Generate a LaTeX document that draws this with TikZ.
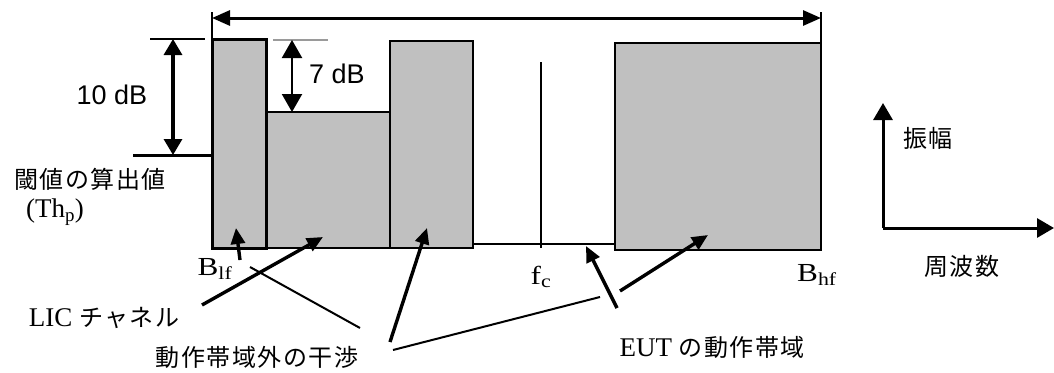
\documentclass[tikz,border=0pt]{standalone}
\usepackage{fontspec}
\setmainfont{Liberation Serif}
\newfontfamily\cjk[LetterSpace=6]{Noto Sans CJK JP}
\newfontfamily\arialf{Liberation Sans}
\usetikzlibrary{arrows.meta}
\definecolor{barfill}{HTML}{C0C0C0}
\definecolor{tickgray}{HTML}{9A9A9A}
\begin{document}
\begin{tikzpicture}[x=1pt,y=-1pt,
  bar/.style={fill=barfill,draw=black,line width=1.6pt},
  thinline/.style={line width=1.6pt},
  ptr/.style={line width=3.4pt,-{Triangle[length=16pt,width=14pt]}},
  lead/.style={line width=2pt},
  dimarrow/.style={line width=3.2pt,{Triangle[length=16pt,width=18pt]}-{Triangle[length=16pt,width=18pt]}},
  jp/.style={font=\cjk\fontsize{24}{28}\selectfont,inner sep=0pt},
  lat/.style={font=\fontsize{27}{30}\selectfont,inner sep=0pt},
  sym/.style={font=\fontsize{26}{28}\selectfont,inner sep=0pt},
  db/.style={font=\arialf\fontsize{27}{30}\selectfont,inner sep=0pt}
]
\useasboundingbox (0,0) rectangle (1054,372);

% bars
\path[bar] (266,112) rectangle (390,248);
\path[bar] (390,41) rectangle (473,248);
\path[bar] (615,43) rectangle (821,250);
\path[bar,line width=3pt] (212,39) rectangle (266,248);
\draw[thinline] (473,244) -- (615,244);
\draw[thinline] (541,62) -- (541,248);

% top span
\coordinate (tl) at (212,18);
\coordinate (tr) at (821,18);
\draw[thinline] (212,12) -- (212,39);
\draw[thinline] (821,12) -- (821,43);
\draw[line width=3pt,{Triangle[length=18pt,width=15pt]}-{Triangle[length=18pt,width=15pt]}] (tl) -- (tr);

% 10 dB
\coordinate (d10a) at (173,39);
\coordinate (d10b) at (173,155);
\draw[thinline] (150,39) -- (205,39);
\draw[line width=3pt] (133,155) -- (212,155);
\draw[dimarrow] (d10a) -- (d10b);
\node[db] (l10) at (112,95) {10 dB};

% 7 dB
\coordinate (d7a) at (292,40);
\coordinate (d7b) at (292,112);
\draw[tickgray,line width=2pt] (273,40) -- (328,40);
\draw[line width=2.2pt,{Triangle[length=18pt,width=20pt]}-{Triangle[length=18pt,width=20pt]}] (d7a) -- (d7b);
\node[db] (l7) at (337,74) {7 dB};

% labels
\node[jp] (thr) at (90,179) {閾値の算出値};
\node[lat] (thp) at (55,212) {(Th\textsubscript{p})};
\node[sym] (blf) at (215,269) {\scalebox{1.2}[1]{B\textsubscript{lf}}};
\node[sym] (fc) at (541,277) {\scalebox{1.2}[1]{f\textsubscript{c}}};
\node[sym] (bhf) at (817,275) {\scalebox{1.2}[1]{B\textsubscript{hf}}};
\node[lat] (lic) at (104,318) {LIC {\cjk\fontsize{24}{28}\selectfont チャネル}};
\node[jp] (oob) at (257,357) {動作帯域外の干渉};
\node[lat] (eut) at (712,347) {EUT {\cjk\fontsize{24}{28}\selectfont の動作帯域}};
\node[jp] (amp) at (928,138) {振幅};
\node[jp] (frq) at (962,266) {周波数};

% pointers
\coordinate (p1s) at (240,260); \coordinate (p1e) at (236,228);
\coordinate (p2s) at (202,305); \coordinate (p2e) at (323,237);
\coordinate (l1s) at (250,267); \coordinate (l1e) at (360,328);
\coordinate (p3s) at (390,342); \coordinate (p3e) at (427,228);
\coordinate (l2s) at (393,350); \coordinate (l2e) at (600,297);
\coordinate (p4s) at (617,308); \coordinate (p4e) at (586,246);
\coordinate (p5s) at (620,291); \coordinate (p5e) at (708,235);
\draw[ptr] (p1s) -- (p1e);
\draw[ptr] (p2s) -- (p2e);
\draw[lead] (l1s) -- (l1e);
\draw[ptr] (p3s) -- (p3e);
\draw[lead] (l2s) -- (l2e);
\draw[ptr] (p4s) -- (p4e);
\draw[ptr] (p5s) -- (p5e);

% axes
\coordinate (org) at (883,228);
\coordinate (ytip) at (883,103);
\coordinate (xtip) at (1054,228);
\draw[line width=3pt,-{Triangle[length=17pt,width=19pt]}] (org) -- (ytip);
\draw[line width=3pt,-{Triangle[length=17pt,width=19pt]}] (org) -- (xtip);
\end{tikzpicture}
\end{document}
